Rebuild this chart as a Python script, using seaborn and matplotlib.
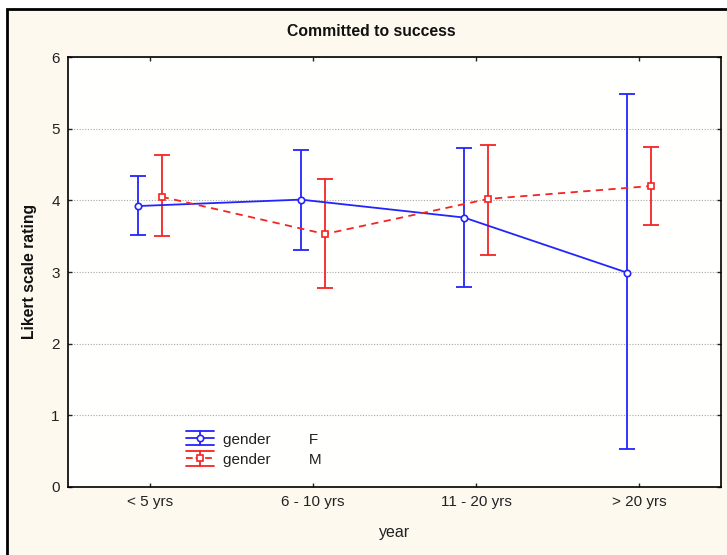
import numpy as np
import pandas as pd
import matplotlib
matplotlib.use("Agg")
import matplotlib.pyplot as plt
import seaborn as sns
from matplotlib.legend_handler import HandlerBase
from matplotlib.lines import Line2D
from matplotlib.patches import Rectangle

# ---- data ----
categories = ["< 5 yrs", "6 - 10 yrs", "11 - 20 yrs", "> 20 yrs"]
genders = ["F", "M"]
f_mean = [3.92, 4.01, 3.76, 2.99]
f_low = [3.52, 3.31, 2.79, 0.53]
f_high = [4.34, 4.70, 4.73, 5.48]
m_mean = [4.05, 3.53, 4.02, 4.20]
m_low = [3.50, 2.77, 3.24, 3.66]
m_high = [4.63, 4.30, 4.77, 4.75]
yticks = [0, 1, 2, 3, 4, 5, 6]

BLUE = "#2424ff"
RED = "#f52424"
colors = {"F": BLUE, "M": RED}

df = pd.DataFrame({
    "year": categories * 2,
    "gender": ["F"] * 4 + ["M"] * 4,
    "rating": f_mean + m_mean,
})

sns.set_theme(style="white")
plt.rcParams["font.family"] = ["Liberation Sans", "DejaVu Sans"]

W, H = 727, 555
fig = plt.figure(figsize=(W / 100, H / 100), dpi=100, facecolor="white")
# cream panel with black border
fig.add_artist(Rectangle((7 / W, -0.05), 1.1, 1 - 9 / H + 0.05, transform=fig.transFigure,
                         facecolor="#fdf9ef", edgecolor="black", linewidth=2, zorder=-5))

ax = fig.add_axes([68 / W, 1 - 487 / H, (721 - 68) / W, (487 - 57) / H])
ax.set_facecolor("#fffffd")

dodge = 0.148
sns.pointplot(data=df, x="year", y="rating", hue="gender", order=categories,
              hue_order=genders, palette=colors, dodge=dodge, markers=["o", "s"],
              linestyles=["-", (0, (4, 3))], errorbar=None, ax=ax, legend=False,
              markersize=4.6, linewidth=1.3, markerfacecolor="white",
              markeredgewidth=1.2, zorder=4)

offsets = np.linspace(0, dodge, 2) - dodge / 2
x = np.arange(len(categories))
for g, off, mean, lo, hi in [("F", offsets[0], f_mean, f_low, f_high),
                             ("M", offsets[1], m_mean, m_low, m_high)]:
    mean = np.array(mean); lo = np.array(lo); hi = np.array(hi)
    ax.errorbar(x + off, mean, yerr=[mean - lo, hi - mean], fmt="none",
                ecolor=colors[g], elinewidth=1.3, capsize=6, capthick=1.3, zorder=3)

ax.set_xlim(-0.5, 3.5)
ax.set_ylim(0, 6)
ax.set_yticks(yticks)
ax.set_xticks(x)
ax.set_xticklabels(categories)
ax.yaxis.grid(True, linestyle=(0, (1, 1.5)), color="#a8a8a8", linewidth=0.8)
ax.xaxis.grid(False)
ax.set_axisbelow(True)
for s in ax.spines.values():
    s.set_color("black")
    s.set_linewidth(1.2)
ax.tick_params(direction="in", length=3, width=1, top=True, right=True, bottom=True,
               left=True, labelsize=11, colors="#222222", pad=6)

ax.set_xlabel("year", fontsize=11.5, color="#222222")
ax.xaxis.set_label_coords(0.5008, -0.088)
ax.set_ylabel("Likert scale rating", fontsize=11.3, fontweight="bold", color="#111111")
ax.yaxis.set_label_coords(-0.047, 0.502)
fig.text(371 / W, 1 - 32 / H, "Committed to success", fontsize=11.3, fontweight="bold",
         ha="center", va="center", color="#111111")


class ErrHandler(HandlerBase):
    def create_artists(self, legend, orig_handle, xdescent, ydescent, width, height,
                       fontsize, trans):
        c = orig_handle.get_color()
        x0 = -xdescent
        x1 = x0 + width
        xm = (x0 + x1) / 2
        ym = -ydescent + height / 2
        d = 5.2
        arts = [
            Line2D([x0, x1], [ym + d, ym + d], color=c, lw=1.3),
            Line2D([x0, x1], [ym - d, ym - d], color=c, lw=1.3),
            Line2D([xm, xm], [ym - d, ym + d], color=c, lw=1.3),
            Line2D([x0, x1], [ym, ym], color=c, lw=1.3, linestyle=orig_handle.get_linestyle()),
            Line2D([xm], [ym], color=c, marker=orig_handle.get_marker(), markersize=4.6,
                   markerfacecolor="white", markeredgewidth=1.2, linestyle="none"),
        ]
        for a in arts:
            a.set_transform(trans)
        return arts


h_f = Line2D([], [], color=BLUE, marker="o", linestyle="-")
h_m = Line2D([], [], color=RED, marker="s", linestyle=(0, (2, 2.5)))
leg = ax.legend([h_f, h_m], ["gender" + " " * 9 + g for g in genders],
                handler_map={Line2D: ErrHandler()}, loc="center left",
                bbox_to_anchor=(0.159, 0.087), frameon=False, fontsize=11,
                handlelength=1.83, handletextpad=0.6, labelspacing=0.4)
for t in leg.get_texts():
    t.set_color("#222222")

fig.savefig("out.png", dpi=100, facecolor=fig.get_facecolor())
